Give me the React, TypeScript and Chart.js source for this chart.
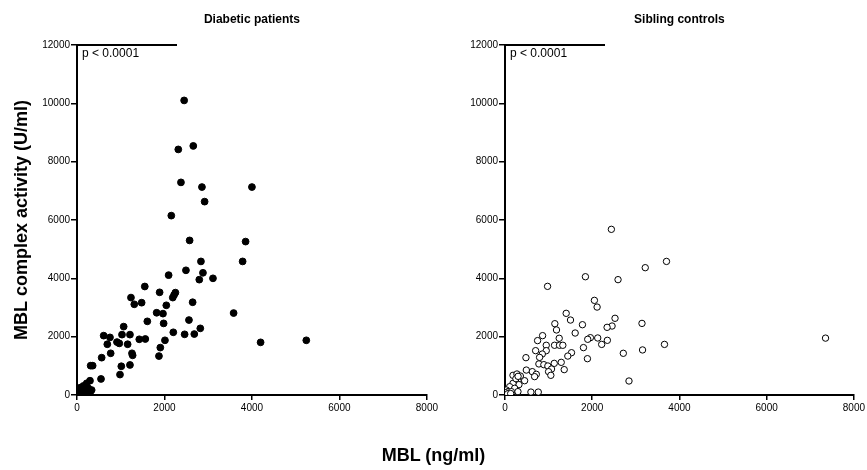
import React, { useEffect, useRef } from "react";
import { Chart, registerables } from "chart.js";

Chart.register(...registerables);

const FONT = "'Liberation Sans', Arial, Helvetica, sans-serif";

// Axis ticks
const xTicks = [0, 2000, 4000, 6000, 8000];
const yTicks = [0, 2000, 4000, 6000, 8000, 10000, 12000];

// Diabetic patients: MBL (ng/ml) vs MBL complex activity (U/ml)
const diabeticMBL = [
  2450, 2316, 2659, 2377, 2857, 4000, 2918, 2156, 2575, 3855, 2834, 3787, 2095, 2491, 2880, 2796,
  3109, 1550, 1234, 1889, 2190, 2220, 2250, 1310, 1478, 2042, 2644, 1821, 1966, 3581, 1608, 1981,
  2560, 1067, 2819, 2202, 2461, 2682, 610, 754, 1029, 1211, 693, 914, 967, 1158, 1424, 1562, 2011,
  770, 1257, 1272, 1905, 1874, 564, 312, 358, 1013, 1211, 983, 549, 4198, 5243,
  297, 221, 145, 69, 7, 183, 259, 335, 297, 145, 69, 10, 221, 107, 40, 260, 120,
];
const diabeticActivity = [
  10100, 8420, 8540, 7290, 7130, 7130, 6630, 6150, 5300, 5260, 4580, 4580, 4110, 4275, 4190, 3955,
  4000, 3720, 3340, 3520, 3340, 3430, 3510, 3110, 3165, 3075, 3180, 2820, 2790, 2810, 2525, 2455,
  2570, 2345, 2285, 2150, 2080, 2090, 2035, 1975, 2070, 2070, 1740, 1815, 1770, 1740, 1910, 1920, 1875,
  1430, 1430, 1360, 1625, 1335, 1280, 1005, 1005, 985, 1030, 700, 550, 1805, 1875,
  490, 400, 310, 250, 170, 230, 230, 170, 80, 115, 80, 30, 80, 170, 40, 60, 20,
];

// Sibling controls
const siblingMBL = [
  2439, 3703, 3216, 1844, 2592, 976, 2050, 2112, 1403, 1502, 2523, 1143, 1776, 3141, 2455, 2341,
  1181, 1609, 862, 1243, 747, 1958, 1897, 2126, 2347, 2217, 3657, 1136, 1250, 1326, 946, 1799,
  702, 946, 3154, 855, 1525, 1440, 2713, 480, 793, 1890, 1129, 1289, 777, 891, 983, 1067, 999,
  1051, 1358, 626, 489, 718, 679, 183, 274, 352, 450, 297, 320, 183, 107, 32, 222, 297, 69, 146,
  10, 594, 763, 2843, 7350, 250, 300, 60, 130,
];
const siblingActivity = [
  5680, 4580, 4365, 4055, 3955, 3725, 3245, 3015, 2800, 2570, 2630, 2445, 2410, 2455, 2365, 2320,
  2230, 2125, 2035, 1945, 1865, 1965, 1910, 1955, 1875, 1735, 1735, 1705, 1705, 1705, 1705, 1625,
  1520, 1520, 1545, 1405, 1450, 1335, 1430, 1280, 1290, 1245, 1085, 1120, 1065, 1040, 995, 890, 800,
  675, 870, 800, 855, 710, 630, 675, 720, 650, 490, 490, 355, 400, 285, 170, 230, 115, 115, 115,
  80, 100, 100, 480, 1950, 560, 640, 40, 50,
];

const panelTitles = ["Diabetic patients", "Sibling controls"];
const pValueText = "p < 0.0001";
const yTitle = "MBL complex activity (U/ml)";
const xTitle = "MBL (ng/ml)";

const annotPlugin = {
  id: "annot",
  afterDraw(chart: any, _args: any, opts: any) {
    const { ctx, chartArea } = chart;
    ctx.save();
    ctx.fillStyle = "#000";
    ctx.font = `bold 12px ${FONT}`;
    ctx.textAlign = "center";
    ctx.textBaseline = "middle";
    ctx.fillText(opts.title, (chartArea.left + chartArea.right) / 2, 20);
    ctx.font = `12px ${FONT}`;
    ctx.textAlign = "left";
    ctx.fillText(opts.pText, chartArea.left + 5, 54);
    ctx.strokeStyle = "#000";
    ctx.lineWidth = 2;
    ctx.beginPath();
    ctx.moveTo(chartArea.left - 1, chartArea.top);
    ctx.lineTo(chartArea.left + 100, chartArea.top);
    ctx.stroke();
    ctx.restore();
  },
};

const plain = (v: any) => String(v);

function makeConfig(title: string, xs: number[], ys: number[], filled: boolean, showYTitle: boolean, padRight: number): any {
  const data = xs.map((x, i) => ({ x, y: ys[i] }));
  return {
    type: "scatter",
    data: {
      datasets: [
        {
          data,
          pointRadius: filled ? 3.4 : 3.2,
          pointHoverRadius: 3.4,
          pointBackgroundColor: filled ? "#000" : "#fff",
          pointBorderColor: "#000",
          pointBorderWidth: 1,
        },
      ],
    },
    plugins: [annotPlugin],
    options: {
      responsive: false,
      animation: false,
      layout: { padding: { left: 0, top: 45, right: padRight, bottom: 0 } },
      plugins: {
        legend: { display: false },
        tooltip: { enabled: false },
        title: { display: false },
        annot: { title, pText: pValueText },
      },
      scales: {
        x: {
          type: "linear",
          min: 0,
          max: 8000,
          afterBuildTicks: (scale: any) => {
            scale.ticks = xTicks.map((v) => ({ value: v }));
          },
          afterFit: (scale: any) => {
            scale.height = 75;
          },
          border: { display: true, color: "#000", width: 2 },
          grid: { display: true, drawOnChartArea: false, drawTicks: true, tickLength: 5, color: "#000", lineWidth: 1.5 },
          ticks: { color: "#000", font: { family: FONT, size: 10 }, padding: 2, maxRotation: 0, autoSkip: false, callback: plain },
        },
        y: {
          type: "linear",
          min: 0,
          max: 12000,
          afterBuildTicks: (scale: any) => {
            scale.ticks = yTicks.map((v) => ({ value: v }));
          },
          afterFit: (scale: any) => {
            scale.width = 77;
          },
          border: { display: true, color: "#000", width: 2 },
          grid: { display: true, drawOnChartArea: false, drawTicks: true, tickLength: 6, color: "#000", lineWidth: 1.5 },
          ticks: { color: "#000", font: { family: FONT, size: 10 }, padding: 1, autoSkip: false, callback: plain },
          title: {
            display: showYTitle,
            text: yTitle,
            color: "#000",
            font: { family: FONT, size: 18, weight: "bold" },
            padding: { top: 11, bottom: 0 },
          },
        },
      },
    },
  };
}

export default function App() {
  const leftRef = useRef<HTMLCanvasElement>(null);
  const rightRef = useRef<HTMLCanvasElement>(null);

  useEffect(() => {
    const left = new Chart(leftRef.current as HTMLCanvasElement, makeConfig(panelTitles[0], diabeticMBL, diabeticActivity, true, true, 13));
    const right = new Chart(rightRef.current as HTMLCanvasElement, makeConfig(panelTitles[1], siblingMBL, siblingActivity, false, false, 12));
    return () => {
      left.destroy();
      right.destroy();
    };
  }, []);

  return (
    <div style={{ position: "fixed", left: 0, top: 0, width: 867, height: 470, background: "#fff", overflow: "hidden" }}>
      <canvas ref={leftRef} width={440} height={470} style={{ position: "absolute", left: 0, top: 0, width: 440, height: 470 }} />
      <canvas ref={rightRef} width={439} height={470} style={{ position: "absolute", left: 428, top: 0, width: 439, height: 470 }} />
      <div
        style={{
          position: "absolute",
          left: 0,
          top: 444,
          width: 867,
          textAlign: "center",
          fontFamily: FONT,
          fontWeight: "bold",
          fontSize: 18,
          lineHeight: "22px",
          color: "#000",
        }}
      >
        {xTitle}
      </div>
    </div>
  );
}
